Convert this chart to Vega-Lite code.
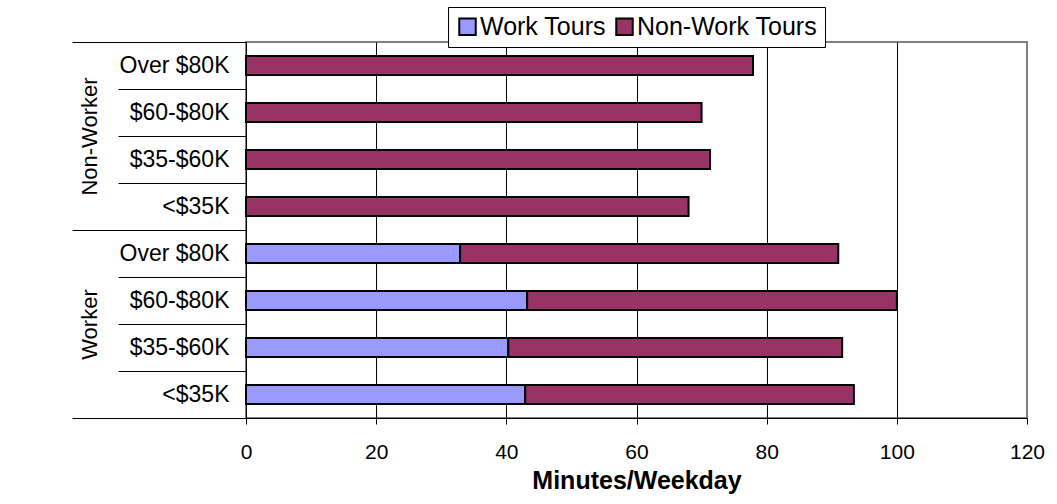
{
  "$schema": "https://vega.github.io/schema/vega-lite/v6.json",
  "width": 781,
  "height": 376,
  "autosize": {"type": "none"},
  "padding": {"left": 246, "top": 42, "right": 30, "bottom": 86},
  "background": "white",
  "config": {
    "font": "Liberation Sans",
    "view": {"stroke": "#808080", "strokeWidth": 2}
  },
  "data": {
    "values": [
      {"group": "Non-Worker", "income": "Over $80K", "tour": "Non-Work Tours", "minutes": 77.9},
      {"group": "Non-Worker", "income": "$60-$80K", "tour": "Non-Work Tours", "minutes": 70.0},
      {"group": "Non-Worker", "income": "$35-$60K", "tour": "Non-Work Tours", "minutes": 71.3},
      {"group": "Non-Worker", "income": "<$35K", "tour": "Non-Work Tours", "minutes": 68.0},
      {"group": "Worker", "income": "Over $80K", "tour": "Work Tours", "minutes": 32.9},
      {"group": "Worker", "income": "Over $80K", "tour": "Non-Work Tours", "minutes": 58.1},
      {"group": "Worker", "income": "$60-$80K", "tour": "Work Tours", "minutes": 43.2},
      {"group": "Worker", "income": "$60-$80K", "tour": "Non-Work Tours", "minutes": 56.8},
      {"group": "Worker", "income": "$35-$60K", "tour": "Work Tours", "minutes": 40.3},
      {"group": "Worker", "income": "$35-$60K", "tour": "Non-Work Tours", "minutes": 51.3},
      {"group": "Worker", "income": "<$35K", "tour": "Work Tours", "minutes": 42.9},
      {"group": "Worker", "income": "<$35K", "tour": "Non-Work Tours", "minutes": 50.5}
    ]
  },
  "transform": [
    {"calculate": "datum.group + '|' + datum.income", "as": "key"},
    {"calculate": "datum.tour === 'Work Tours' ? 0 : 1", "as": "tourOrder"}
  ],
  "layer": [
    {
      "mark": {"type": "bar", "height": {"band": 0.4}, "stroke": "black", "strokeWidth": 2},
      "encoding": {
        "y": {
          "field": "key",
          "type": "nominal",
          "sort": ["Non-Worker|Over $80K", "Non-Worker|$60-$80K", "Non-Worker|$35-$60K", "Non-Worker|<$35K", "Worker|Over $80K", "Worker|$60-$80K", "Worker|$35-$60K", "Worker|<$35K"],
          "scale": {"type": "band", "paddingInner": 0, "paddingOuter": 0},
          "axis": {
            "title": null,
            "orient": "left",
            "tickBand": "extent",
            "tickSize": 128,
            "tickColor": "black",
            "tickWidth": 1,
            "domainColor": "black",
            "domainWidth": 1,
            "labelFontSize": 23,
            "labelColor": "black",
            "labelPadding": -111,
            "labelLimit": 0,
            "labelExpr": "split(datum.label, '|')[1]",
            "grid": false
          }
        },
        "x": {
          "field": "minutes",
          "type": "quantitative",
          "stack": "zero",
          "scale": {"domain": [0, 120], "nice": false},
          "axis": {
            "title": "Minutes/Weekday",
            "titleFontSize": 25,
            "titleFontWeight": "bold",
            "titleColor": "black",
            "titlePadding": 6,
            "values": [0, 20, 40, 60, 80, 100, 120],
            "grid": true,
            "gridColor": {"condition": {"test": "datum.value == 120", "value": "#808080"}, "value": "black"},
            "gridWidth": 1,
            "gridOpacity": 1,
            "tickSize": 6,
            "tickColor": "black",
            "domainColor": "black",
            "labelFontSize": 21,
            "labelColor": "black",
            "labelPadding": 17,
            "labelFlush": false
          }
        },
        "color": {
          "field": "tour",
          "type": "nominal",
          "scale": {"domain": ["Work Tours", "Non-Work Tours"], "range": ["#9999FF", "#993366"]},
          "legend": {
            "title": null,
            "orient": "none",
            "legendX": 202,
            "legendY": -35,
            "direction": "horizontal",
            "fillColor": "white",
            "strokeColor": "black",
            "padding": 7,
            "labelFontSize": 25,
            "labelLimit": 0,
            "labelColor": "black",
            "symbolType": "square",
            "symbolSize": 272,
            "symbolStrokeColor": "black",
            "symbolStrokeWidth": 2,
            "symbolOpacity": 1,
            "labelOffset": 0,
            "columnPadding": 6
          }
        },
        "order": {"field": "tourOrder"}
      }
    },
    {
      "mark": {"type": "bar", "opacity": 0},
      "encoding": {
        "y": {
          "field": "group",
          "type": "nominal",
          "sort": ["Non-Worker", "Worker"],
          "scale": {"type": "band", "paddingInner": 0, "paddingOuter": 0},
          "axis": {
            "title": null,
            "orient": "left",
            "tickBand": "extent",
            "tickSize": 174,
            "tickColor": "black",
            "tickWidth": 1,
            "domain": false,
            "labelAngle": 270,
            "labelAlign": "center",
            "labelBaseline": "middle",
            "labelFontSize": 22,
            "labelColor": "black",
            "labelPadding": -17.5,
            "grid": false
          }
        },
        "x": {
          "field": "minutes",
          "type": "quantitative",
          "stack": null,
          "title": "Minutes/Weekday"
        }
      }
    }
  ],
  "resolve": {"scale": {"y": "independent"}, "axis": {"y": "independent"}}
}
